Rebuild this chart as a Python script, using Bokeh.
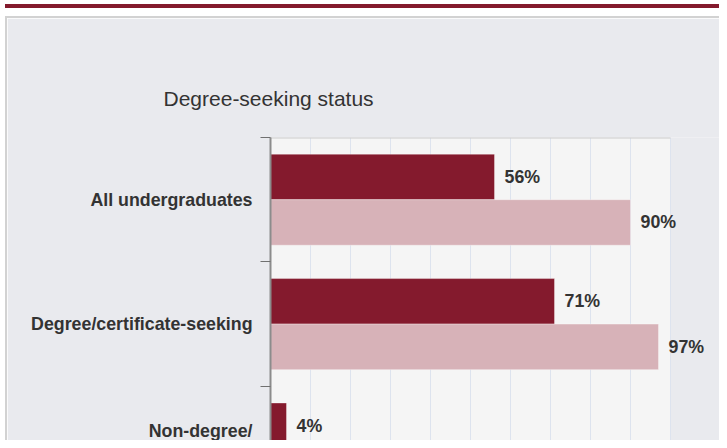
from bokeh.plotting import figure
from bokeh.models import Range1d, FixedTicker, ColumnDataSource, LabelSet, Div, BoxAnnotation
from bokeh.layouts import column, row
from bokeh.core.properties import value
from bokeh.embed import file_html
from bokeh.resources import INLINE

# ---- data ----
chart_title = "Degree-seeking status"
categories = ["All undergraduates", "Degree/certificate-seeking", "Non-degree/\nnon-certificate-seeking"]
series_dark = [56, 71, 4]
series_light = [90, 97, None]   # third value lies below the visible area
x_ticks = [0, 10, 20, 30, 40, 50, 60, 70, 80, 90, 100]

# ---- styles ----
DARK = "#841A2D"
LIGHT = "#D7B2B8"
PANEL = "#E9EAEE"
PLOT_BG = "#F5F5F5"
BORDER = "#D2D2D2"
TEXT = "#333333"
FONT = "Liberation Sans"

PX_X = 4.0       # pixels per percent
PX_Y = 124.4     # pixels per category band
BAR_H = 0.366
LINE_OFF = 10.2 / PX_Y   # half line spacing for two-line labels

TOTAL_W, TOTAL_H = 719, 440
TOP_H, LEFT_W = 18, 7
FIG_W, FIG_H = TOTAL_W - LEFT_W, TOTAL_H - TOP_H
ML, MT = 263, 119
frame_w = FIG_W - ML
frame_h = FIG_H - MT

idx = list(range(len(categories)))

def nz(v):
    return float("nan") if v is None else v

src_dark = ColumnDataSource(dict(y=[i - BAR_H / 2 for i in idx], right=[nz(v) for v in series_dark]))
src_light = ColumnDataSource(dict(y=[i + BAR_H / 2 for i in idx], right=[nz(v) for v in series_light]))

lab_x, lab_y, lab_t = [], [], []
for i in idx:
    if series_dark[i] is not None:
        lab_x.append(series_dark[i]); lab_y.append(i - BAR_H / 2); lab_t.append(f"{series_dark[i]}%")
    if series_light[i] is not None:
        lab_x.append(series_light[i]); lab_y.append(i + BAR_H / 2); lab_t.append(f"{series_light[i]}%")
src_lab = ColumnDataSource(dict(x=lab_x, y=lab_y, t=lab_t))

p = figure(width=FIG_W, height=FIG_H, output_backend="svg", toolbar_location=None,
           x_range=Range1d(0, frame_w / PX_X),
           y_range=Range1d(-0.5 + frame_h / PX_Y, -0.5),
           min_border_left=ML, min_border_right=0, min_border_top=MT, min_border_bottom=0)
p.border_fill_color = PANEL
p.background_fill_color = PANEL
p.outline_line_color = None

# plot-area background from 0 to 100 %
p.add_layout(BoxAnnotation(left=x_ticks[0], right=x_ticks[-1], fill_color=PLOT_BG, fill_alpha=1,
                           line_color=None, level="image"))
# top border of plot area
p.segment(x0=[x_ticks[0]], x1=[x_ticks[-1]], y0=[-0.5], y1=[-0.5], line_color="#CCCCCC", line_width=2)

p.title.text = chart_title
p.title.text_font = FONT
p.title.text_font_size = "21px"
p.title.text_font_style = "normal"
p.title.text_color = TEXT
p.title.align = "left"
p.title.offset = -107
p.title.standoff = 55

p.hbar(y="y", left=0, right="right", height=BAR_H, source=src_dark,
       fill_color=DARK, line_color="white", line_alpha=0.35, line_width=1)
p.hbar(y="y", left=0, right="right", height=BAR_H, source=src_light,
       fill_color=LIGHT, line_color="white", line_alpha=0.35, line_width=1)

p.add_layout(LabelSet(x="x", y="y", text="t", source=src_lab, x_offset=10,
                      text_baseline="middle", text_align="left",
                      text_font=value(FONT), text_font_size=value("17.8px"), text_font_style="bold",
                      text_color=TEXT))

p.xaxis.visible = False
p.xgrid.ticker = FixedTicker(ticks=x_ticks)
p.xgrid.grid_line_color = "#DDE3EE"
p.xgrid.grid_line_width = 1
p.ygrid.grid_line_color = None

# category labels: one tick per label line, so multi-line labels sit like the original
tick_pos, overrides = [], {}
for i, c in zip(idx, categories):
    lines = c.split("\n")
    n = len(lines)
    for k, ln in enumerate(lines):
        pos = i + (2 * k - (n - 1)) * LINE_OFF
        tick_pos.append(pos)
        overrides[pos] = ln

ya = p.yaxis[0]
ya.ticker = FixedTicker(ticks=tick_pos, minor_ticks=[i - 0.5 for i in idx] + [len(idx) - 0.5])
ya.major_label_overrides = overrides
ya.major_tick_line_color = None
ya.major_tick_out = 0
ya.major_tick_in = 0
ya.minor_tick_out = 10
ya.minor_tick_in = 0
ya.minor_tick_line_color = "#707070"
ya.minor_tick_line_width = 1
ya.axis_line_color = "#8C8C8C"
ya.axis_line_width = 2
ya.major_label_standoff = 8
ya.major_label_text_font = FONT
ya.major_label_text_font_size = "17.8px"
ya.major_label_text_font_style = "bold"
ya.major_label_text_color = TEXT

top = Div(text="", width=TOTAL_W, height=TOP_H,
          styles={"background": f"linear-gradient(to right, #ffffff 0px, #ffffff 5px, transparent 5px), "
                                f"linear-gradient(to bottom, #ffffff 0px, #ffffff 4px, {DARK} 4px, {DARK} 8px, "
                                f"#ffffff 8px, #ffffff 16px, {BORDER} 16px, {BORDER} 18px)",
                  "margin": "0", "padding": "0"})
left = Div(text="", width=LEFT_W, height=FIG_H,
           styles={"background": f"linear-gradient(to right, #ffffff 0px, #ffffff 5px, {BORDER} 5px, {BORDER} 7px)",
                   "margin": "0", "padding": "0"})

layout = column(top, row(left, p, spacing=0), spacing=0)

open("out.html", "w").write(file_html(layout, INLINE))
